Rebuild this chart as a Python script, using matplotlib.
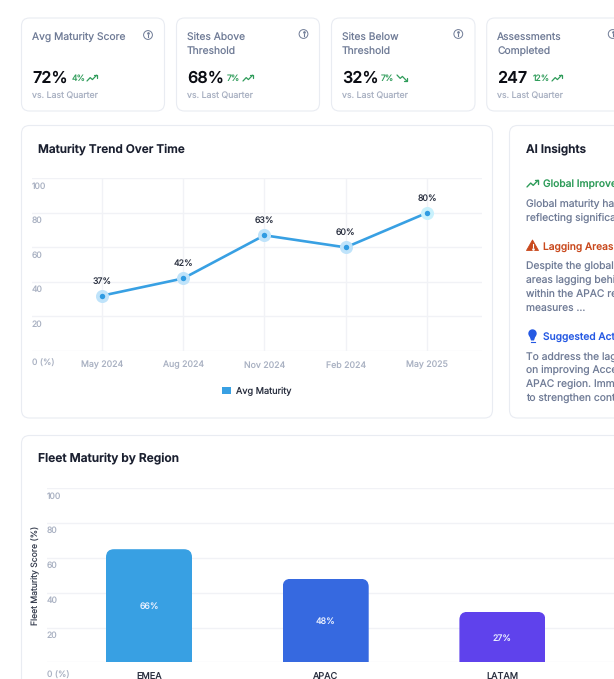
import matplotlib
matplotlib.use("Agg")
import matplotlib.pyplot as plt
from matplotlib.patches import FancyBboxPatch, Patch, Polygon, Circle
from matplotlib.path import Path
from matplotlib.transforms import ScaledTranslation

# ---------- data ----------
kpi_titles = [["Avg Maturity Score"], ["Sites Above", "Threshold"], ["Sites Below", "Threshold"], ["Assessments", "Completed"]]
kpi_values = ["72%", "68%", "32%", "247"]
kpi_deltas = ["4%", "7%", "7%", "12%"]
kpi_dirs = ["up", "up", "down", "up"]
kpi_note = "vs. Last Quarter"

trend_months = ["May 2024", "Aug 2024", "Nov 2024", "Feb 2024", "May 2025"]
trend_points = [32, 42, 67, 60, 80]
trend_labels = ["37%", "42%", "63%", "60%", "80%"]
trend_series = "Avg Maturity"

regions = ["EMEA", "APAC", "LATAM"]
region_heights = [65, 48, 29]
region_labels = ["66%", "48%", "27%"]

y_ticks = [0, 20, 40, 60, 80, 100]
y_tick_labels = ["0 (%)", "20", "40", "60", "80", "100"]

insight_heads = ["Global Improvement", "Lagging Areas", "Suggested Actions"]
insight_bodies = [
    ["Global maturity has", "reflecting significant"],
    ["Despite the global", "areas lagging behind", "within the APAC region", "measures ..."],
    ["To address the lagging", "on improving Access", "APAC region. Immediate", "to strengthen controls"],
]

# ---------- layout / style ----------
W, H = 614, 679
FONT = "Inter"
plt.rcParams["font.family"] = [FONT, "DejaVu Sans"]
plt.rcParams["text.hinting"] = "no_hinting"
plt.rcParams["text.hinting_factor"] = 1
DARK = "#1b2030"
SLATE = "#6f7b96"
MUTE = "#a9b1c2"
GRID = "#f1f2f6"
BORDER = "#e9ecf2"
BLUE = "#38a0e3"
GREEN = "#2f9c5a"
ORANGE = "#c9491d"
ROYAL = "#2559e3"
BAR_COLORS = ["#38a0e3", "#3669e0", "#5f42ec"]


def fs(px):
    return px * 72 / 100


fig = plt.figure(figsize=(W / 100, H / 100), dpi=100, facecolor="white")
bg = fig.add_axes([0, 0, 1, 1], zorder=0)
bg.set_xlim(0, W)
bg.set_ylim(H, 0)
bg.axis("off")


def card(x0, y0, x1, y1):
    bg.add_patch(FancyBboxPatch((x0 + 8, y0 + 8), x1 - x0 - 16, y1 - y0 - 16,
                                boxstyle="round,pad=8,rounding_size=8",
                                fc="white", ec=BORDER, lw=0.8))


def txt(x, y, s, size, color, weight="normal", ha="left"):
    bg.text(x, y, s, fontsize=fs(size), color=color, fontweight=weight, ha=ha, va="center_baseline")


def trend_icon(x, y, up=True, w=10, color=GREEN, lw=0.9):
    s = 1 if up else -1
    k = w / 10
    xs = [x, x + 3.2 * k, x + 5.4 * k, x + 9.6 * k]
    ys = [y + s * 3 * k, y - s * 0.4 * k, y + s * 1.6 * k, y - s * 2.8 * k]
    bg.plot(xs, ys, color=color, lw=lw, solid_capstyle="round")
    bg.plot([x + 6.6 * k, x + 9.8 * k, x + 9.8 * k], [y - s * 2.8 * k, y - s * 2.8 * k, y + s * 0.2 * k],
            color=color, lw=lw, solid_capstyle="round")


def info_icon(x, y):
    bg.add_patch(Circle((x, y), 4.4, fc="none", ec=SLATE, lw=0.7))
    bg.plot([x, x], [y - 0.5, y + 2.2], color=SLATE, lw=0.8)
    bg.plot([x], [y - 2.1], marker="o", ms=0.9, color=SLATE)


# ---------- KPI cards ----------
card_left = [21.5, 176.5, 331.5, 486.7]
card_right = [164.5, 319.5, 475, 640]
delta_x = [72, 227, 381, 533]
icon_x = [87, 243, 397, 552]
info_xy = [(148, 35), (303.5, 34), (458.3, 34), (612.7, 34)]
for i in range(4):
    card(card_left[i], 18, card_right[i], 111)
    tx = card_left[i] + 10.5
    for j, line in enumerate(kpi_titles[i]):
        txt(tx, 35.5 + j * 14, line, 10.3, SLATE)
    txt(tx, 77, kpi_values[i], 16.2, "#0b0d14", "semibold")
    txt(delta_x[i], 78, kpi_deltas[i], 8.6, GREEN)
    trend_icon(icon_x[i], 78, kpi_dirs[i] == "up")
    txt(tx, 95.5, kpi_note, 8.8, MUTE)
    info_icon(*info_xy[i])

# ---------- other cards ----------
card(21.5, 125.5, 492.5, 418)
card(509.5, 125.5, 650, 418)
card(21.5, 435.5, 660, 720)
txt(37.5, 147.5, "Maturity Trend Over Time", 11.8, DARK, "semibold")
txt(526, 147.5, "AI Insights", 11.8, DARK, "semibold")
txt(37.5, 457.5, "Fleet Maturity by Region", 12, DARK, "semibold")

# ---------- insights ----------
head_y = [183.5, 245.5, 336]
head_c = [GREEN, ORANGE, ROYAL]
body_y = [[202.5, 216.7], [265, 279, 292.7, 307], [355.5, 369, 382.7, 397]]
for i in range(3):
    txt(543, head_y[i], insight_heads[i], 10.2, head_c[i], "medium")
    for y, line in zip(body_y[i], insight_bodies[i]):
        txt(526, y, line, 10.3, SLATE)
trend_icon(527, 183.5, True, w=11.5, color=GREEN, lw=1.0)
bg.add_patch(Polygon([[532.5, 240], [538.5, 250.5], [526.5, 250.5]], closed=True, fc=ORANGE, ec=ORANGE, lw=0.6, joinstyle="round"))
bg.plot([532.5, 532.5], [243.6, 247], color="white", lw=0.8)
bg.plot([532.5], [248.9], marker="o", ms=0.9, color="white")
bg.add_patch(Circle((532.5, 333.5), 4.2, fc=ROYAL, ec="none"))
bg.add_patch(Polygon([[529.5, 336], [535.5, 336], [534, 340.5], [531, 340.5]], closed=True, fc=ROYAL, ec="none"))
bg.plot([530.5, 534.5], [341.8, 341.8], color=ROYAL, lw=0.8)


def add_axes_px(x0, y_top, x1, y_bottom):
    return fig.add_axes([x0 / W, 1 - y_bottom / H, (x1 - x0) / W, (y_bottom - y_top) / H], zorder=2, facecolor="none")


def style_axes(ax, zero_off, other_off=7):
    ax.set_ylim(0, 100)
    for s in ax.spines.values():
        s.set_visible(False)
    ax.set_yticks(y_ticks, y_tick_labels)
    ax.tick_params(axis="both", length=0)
    ax.tick_params(axis="y", pad=0, labelsize=fs(8.6), labelcolor=MUTE)
    ax.grid(axis="y", color=GRID, lw=1)
    ax.set_axisbelow(True)
    for v, lab in zip(y_ticks, ax.get_yticklabels()):
        lab.set_ha("left")
        lab.set_va("center_baseline")
        off = zero_off if v == 0 else other_off
        lab.set_transform(lab.get_transform() + ScaledTranslation(0, -off / 100, fig.dpi_scale_trans))


# ---------- line chart ----------
ax = add_axes_px(32, 178.3, 481.5, 351)
xs = list(range(len(trend_months)))
unit = 81.3
origin = 101.8
ax.set_xlim(-(origin - 32) / unit, (481.5 - origin) / unit)
style_axes(ax, 12)
ax.set_xticks(xs, trend_months)
ax.tick_params(axis="x", pad=7, labelsize=fs(8.8), labelcolor=MUTE)
ax.grid(axis="x", color=GRID, lw=1)
ax.plot(xs, trend_points, color=BLUE, lw=1.9, solid_capstyle="round", zorder=3, clip_on=False)
halo = ["#bfe3fa", "#bfe3fa", "#bfe3fa", "#bfe3fa", "#c9f1fc"]
for x, y, lab, hc in zip(xs, trend_points, trend_labels, halo):
    ax.plot([x], [y], marker="o", ms=9.4, mfc=hc, mec="none", zorder=4, clip_on=False)
    ax.plot([x], [y], marker="o", ms=3.9, mfc="#2f9be2", mec="none", zorder=5, clip_on=False)
    ax.annotate(lab, (x, y), xytext=(0, 15.5), textcoords="offset pixels", ha="center", va="center_baseline",
                fontsize=fs(8.8), color="#2a3040", zorder=6)
ax.legend(handles=[Patch(fc=BLUE, ec="none", label=trend_series)], loc="center",
          bbox_to_anchor=((257 - 32) / 449.5, -(391 - 351) / 172.7), frameon=False,
          prop={"size": fs(9.2)}, handlelength=0.9, handleheight=0.9, handletextpad=0.6, labelcolor="#2a3040")

# ---------- bar chart ----------
ax2 = add_axes_px(47, 488.3, 614, 662.3)
bar_unit = 176.7
ax2.set_xlim(-(149 - 47) / bar_unit, (614 - 149) / bar_unit)
style_axes(ax2, 12)
bx = list(range(len(regions)))
bars = ax2.bar(bx, region_heights, width=86 / bar_unit, color=BAR_COLORS, zorder=3)
rx, ry = 8 / bar_unit, 8 / 1.74
for bar, lab in zip(bars, region_labels):
    x0, x1, h = bar.get_x(), bar.get_x() + bar.get_width(), bar.get_height()
    verts = [(x0, 0), (x0, h - ry), (x0, h), (x0 + rx, h), (x1 - rx, h), (x1, h), (x1, h - ry), (x1, 0), (x0, 0)]
    codes = [Path.MOVETO, Path.LINETO, Path.CURVE3, Path.CURVE3, Path.LINETO, Path.CURVE3, Path.CURVE3, Path.LINETO, Path.CLOSEPOLY]
    bar.set_clip_path(Path(verts, codes), ax2.transData)
    ax2.text(bar.get_x() + bar.get_width() / 2, h / 2, lab, color="#eaf0ff", fontsize=fs(8.8),
             ha="center", va="center_baseline", zorder=4)
ax2.set_xticks(bx, regions)
ax2.tick_params(axis="x", pad=7, labelsize=fs(9.2), labelcolor="#2a3040")
ax2.set_ylabel("Fleet Maturity Score (%)", fontsize=fs(8.6), color="#3a4152")
ax2.yaxis.set_label_coords(-7.5 / 567, 0.5)

fig.savefig("out.png", dpi=100)
